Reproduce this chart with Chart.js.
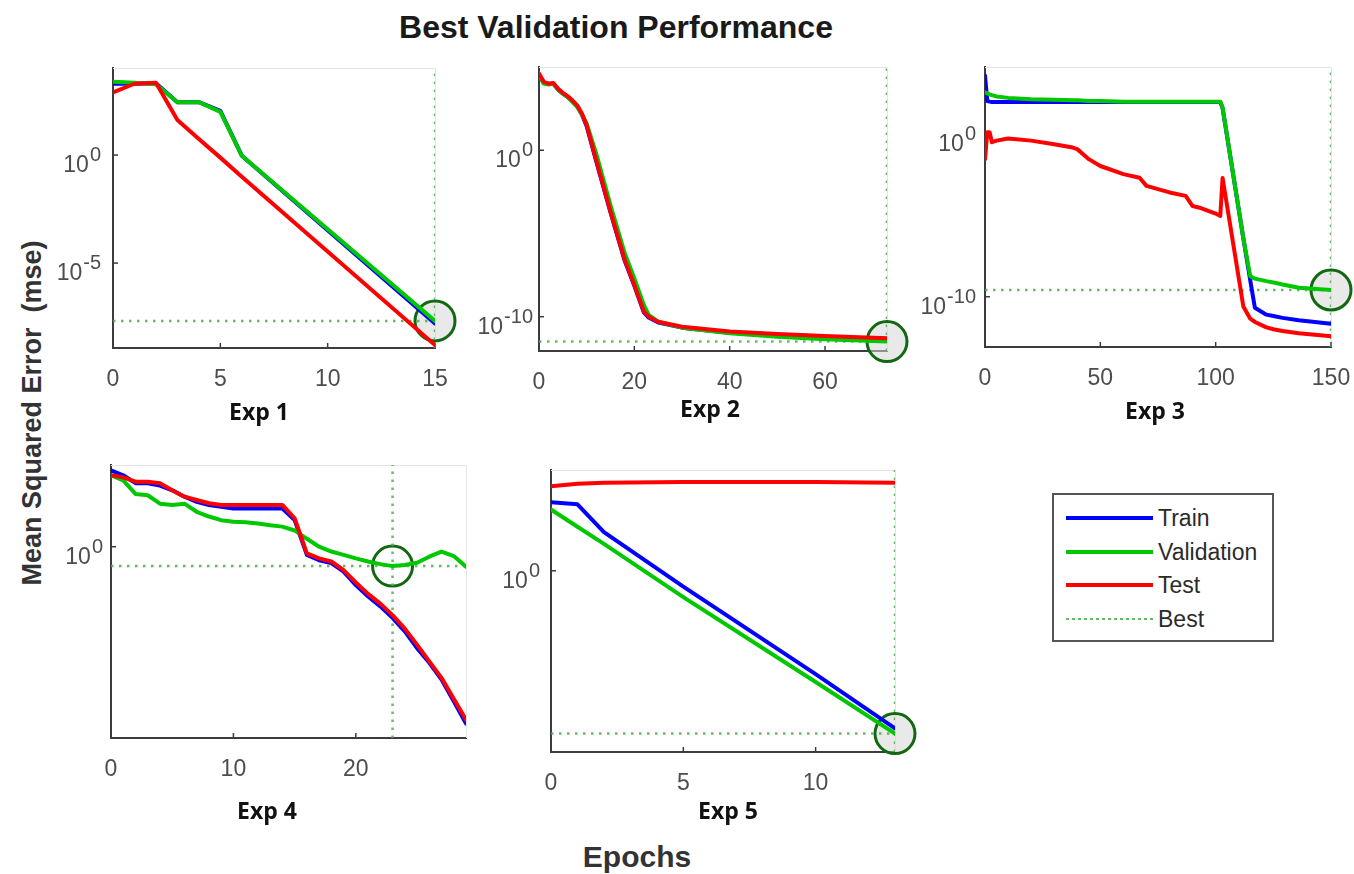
<!DOCTYPE html>
<html lang="en">
<head>
  <meta charset="utf-8">
  <title>Best Validation Performance</title>
  <script src="https://cdn.jsdelivr.net/npm/chart.js@4.4.1/dist/chart.umd.min.js"></script>
  <style>
    body { margin: 0; background: #fff; }
    #page { position: relative; width: 1354px; height: 874px; overflow: hidden;
            font-family: 'Liberation Sans', Arial, sans-serif; }
    .abs { position: absolute; }
    .mid { transform: translate(-50%, -50%); white-space: pre; }
    #title { left: 616px; top: 27px; font-size: 32px; font-weight: bold; color: #1a1a1a; }
    #ylabel { left: 32px; top: 413px; font-size: 27px; font-weight: bold; color: #333;
              transform: translate(-50%, -50%) rotate(-90deg); white-space: pre; }
    #xlabel { left: 637px; top: 857px; font-size: 30px; font-weight: bold; color: #333; }
    .exp { font-family: 'Open Sans', sans-serif; font-size: 23px; font-weight: bold; color: #111; }
    #legend { left: 1052px; top: 493px; width: 218px; height: 145px; border: 2px solid #555; }
    .row { position: absolute; left: 0; height: 34px; width: 100%; }
    .swatch { position: absolute; left: 12px; width: 87px; top: 15px; height: 4px; }
    .swatch.dot { height: 2px; top: 16px;
                  background: repeating-linear-gradient(to right, rgba(70,175,70,0.85) 0 3px, transparent 3px 6px); }
    .name { position: absolute; left: 104px; top: 4px; font-size: 23px; color: #2b2b2b; }
  </style>
</head>
<body>
<div id="page">
  <div id="title" class="abs mid">Best Validation Performance</div>
  <div id="ylabel" class="abs">Mean Squared Error  (mse)</div>
  <div id="xlabel" class="abs mid">Epochs</div>
  <div id="legend" class="abs"></div>
</div>

<script>
  const expNames = ['Exp 1', 'Exp 2', 'Exp 3', 'Exp 4', 'Exp 5'];
  const seriesNames = ['Train', 'Validation', 'Test', 'Best'];

  // Exp 1
  const exp1Epochs = [0, 1, 2, 3, 4, 5, 6, 15];
  const exp1Train = [2.0e3, 2.0e3, 2.1e3, 2.8e2, 2.8e2, 1.1e2, 0.93, 1.6e-8];
  const exp1Val = [2.5e3, 2.2e3, 1.9e3, 2.8e2, 2.8e2, 1.0e2, 0.93, 2.1e-8];
  const exp1Test = [7.9e2, 2.0e3, 2.2e3, 42, 5.6, 0.76, 0.10, 1.6e-9];
  const exp1Best = [15, 2.1e-8];
  const exp1XTicks = [0, 5, 10, 15];
  const exp1YTicks = [1e-5, 1];

  // Exp 2
  const exp2Epochs = [0, 1, 2, 3, 4, 5, 6, 7, 8, 9, 10, 12, 15, 18, 20, 22, 23, 25, 30, 40, 50, 60, 73];
  const exp2Train = [3.5e4, 1.1e4, 1.0e4, 1.0e4, 4.5e3, 2.5e3, 1.6e3, 8.9e2, 4.5e2, 1.4e2, 28, 0.22,
                     1.8e-4, 2.2e-7, 7.1e-9, 1.8e-10, 8.9e-11, 4.5e-11, 2.2e-11, 1.1e-11, 7.9e-12, 6.0e-12, 4.5e-12];
  const exp2Val = [3.2e4, 1.0e4, 8.9e3, 1.0e4, 4.5e3, 2.5e3, 1.6e3, 7.9e2, 4.0e2, 1.4e2, 40, 0.63,
                   5.0e-4, 6.3e-7, 2.0e-8, 5.0e-10, 1.3e-10, 5.0e-11, 2.2e-11, 1.0e-11, 6.3e-12, 4.4e-12, 3.2e-12];
  const exp2Test = [4.0e4, 1.3e4, 1.0e4, 1.1e4, 5.0e3, 2.8e3, 1.8e3, 1.0e3, 5.0e2, 1.6e2, 32, 0.25,
                    2.0e-4, 2.5e-7, 7.9e-9, 2.0e-10, 1.0e-10, 5.0e-11, 2.5e-11, 1.3e-11, 9.1e-12, 6.9e-12, 5.0e-12];
  const exp2Best = [73, 3.2e-12];
  const exp2XTicks = [0, 20, 40, 60];
  const exp2YTicks = [1e-10, 1];

  // Exp 3
  const exp3Epochs = [0, 1, 2, 3, 5, 10, 20, 30, 38, 40, 45, 50, 60, 67, 70, 80, 87, 90, 93, 100,
                      102, 103, 112, 115, 117, 122, 125, 129, 136, 150];
  const exp3Train = [4.0e3, 1.1e2, 1.0e2, 95, 95, 95, 95, 95, 95, 95, 95, 95, 95, 95, 95, 95, 95, 95, 95, 95,
                     95, 40, 3.9e-7, 1.0e-9, 2.1e-11, 7.9e-12, 6.5e-12, 5.0e-12, 3.6e-12, 2.2e-12];
  const exp3Val = [3.7e2, 3.2e2, 2.8e2, 2.5e2, 2.1e2, 1.7e2, 1.4e2, 1.3e2, 1.2e2, 1.2e2, 1.1e2, 1.1e2,
                   1.0e2, 1.0e2, 1.0e2, 1.0e2, 1.0e2, 1.0e2, 1.0e2, 1.0e2,
                   1.0e2, 43, 3.9e-7, 1.8e-9, 1.3e-9, 9.1e-10, 7.6e-10, 5.6e-10, 3.6e-10, 2.6e-10];
  const exp3Test = [2.9e-2, 1.3, 1.3, 0.32, 0.40, 0.54, 0.40, 0.24, 0.15, 0.12, 2.9e-2, 1.1e-2, 3.5e-3,
                    2.1e-3, 6.6e-4, 2.6e-4, 1.6e-4, 3.8e-5, 3.0e-5, 1.3e-5,
                    9.3e-6, 2.0e-3, 2.5e-11, 4.5e-12, 2.8e-12, 1.3e-12, 1.0e-12, 7.9e-13, 5.6e-13, 3.7e-13];
  const exp3Best = [150, 2.6e-10];
  const exp3XTicks = [0, 50, 100, 150];
  const exp3YTicks = [1e-10, 1];

  // Exp 4
  const exp4Epochs = [0, 1, 2, 3, 4, 5, 6, 7, 8, 9, 10, 11, 12, 13, 14, 15, 16, 17, 18, 19,
                      20, 21, 22, 23, 24, 25, 26, 27, 28, 29];
  const exp4Train = [50, 39, 26, 26, 23, 18, 13, 10, 8.5, 7.8, 7.1, 7.1, 7.1, 7.1, 7.1, 3.9, 0.66, 0.50, 0.43, 0.28,
                     0.14, 0.078, 0.047, 0.026, 0.013, 5.5e-3, 2.6e-3, 1.1e-3, 3.6e-4, 1.15e-4];
  const exp4Val = [39, 30, 15, 14, 9.1, 8.5, 9.1, 6.0, 4.7, 3.9, 3.6, 3.5, 3.3, 3.0, 2.8, 2.3, 1.5, 1.0, 0.78, 0.66,
                   0.55, 0.47, 0.41, 0.37, 0.39, 0.44, 0.60, 0.78, 0.62, 0.36];
  const exp4Test = [39, 35, 28, 28, 26, 18, 13, 11, 9.3, 8.5, 8.5, 8.5, 8.5, 8.5, 8.5, 4.3, 0.71, 0.55, 0.47, 0.30,
                    0.16, 0.089, 0.054, 0.030, 0.015, 6.6e-3, 2.8e-3, 1.2e-3, 4.1e-4, 1.4e-4];
  const exp4Best = [23, 0.37];
  const exp4XTicks = [0, 10, 20];
  const exp4YTicks = [1];

  // Exp 5
  const exp5Epochs = [0, 1, 2, 5, 10, 13];
  const exp5Train = [52, 46, 9.3, 0.40, 2.6e-3, 1.15e-4];
  const exp5Val = [34, 12.6, 4.7, 0.22, 1.66e-3, 8.5e-5];
  const exp5Test = [1.3e2, 1.5e2, 1.6e2, 1.66e2, 1.66e2, 1.6e2];
  const exp5Best = [13, 8.5e-5];
  const exp5XTicks = [0, 5, 10];
  const exp5YTicks = [1];

  const colors = { Train: '#0000ff', Validation: '#00c800', Test: '#ff0000' };
  const bestColor = 'rgba(70,175,70,0.85)';
  const tickFont = '"Liberation Sans", Arial, sans-serif';

  // plot box on the page [left, top, right, bottom], axis limits and label spots
  const panels = [
    { box: [113, 68, 435, 348], xMax: 15, yRange: [1.17e-9, 1.07e4], label: [259, 411], gap: 12, fill: true,
      epochs: exp1Epochs, train: exp1Train, val: exp1Val, test: exp1Test, best: exp1Best, xTicks: exp1XTicks, yTicks: exp1YTicks },
    { box: [539, 67, 887, 351], xMax: 73, yRange: [8.7e-13, 1.0e5], label: [710, 408], gap: 6, fill: true,
      epochs: exp2Epochs, train: exp2Train, val: exp2Val, test: exp2Test, best: exp2Best, xTicks: exp2XTicks, yTicks: exp2YTicks },
    { box: [985, 67, 1331, 347], xMax: 150, yRange: [8.1e-14, 1.35e4], label: [1155, 410], gap: 9, fill: true,
      epochs: exp3Epochs, train: exp3Train, val: exp3Val, test: exp3Test, best: exp3Best, xTicks: exp3XTicks, yTicks: exp3YTicks },
    { box: [111, 465, 466, 738], xMax: 29, yRange: [5.5e-5, 66], label: [267, 810], gap: 8, fill: false,
      epochs: exp4Epochs, train: exp4Train, val: exp4Val, test: exp4Test, best: exp4Best, xTicks: exp4XTicks, yTicks: exp4YTicks },
    { box: [551, 470, 895, 752], xMax: 13, yRange: [2.95e-5, 331], label: [728, 810], gap: 11, fill: true,
      epochs: exp5Epochs, train: exp5Train, val: exp5Val, test: exp5Test, best: exp5Best, xTicks: exp5XTicks, yTicks: exp5YTicks }
  ];

  // MATLAB-like axes: inward ticks, faint top/right edges, 10^n labels
  const axisDecor = {
    id: 'axisDecor',
    beforeDatasetsDraw(chart, args, opts) {
      const { ctx, chartArea: a, scales: { x, y } } = chart;
      ctx.save();
      ctx.strokeStyle = '#e4e4e4';
      ctx.lineWidth = 1;
      ctx.beginPath();
      ctx.moveTo(a.left, a.top + 0.5);
      ctx.lineTo(a.right + 0.5, a.top + 0.5);
      ctx.lineTo(a.right + 0.5, a.bottom);
      ctx.stroke();

      ctx.strokeStyle = '#3c3c3c';
      ctx.lineWidth = 1.5;
      x.ticks.forEach(t => {
        const px = x.getPixelForValue(t.value);
        ctx.beginPath(); ctx.moveTo(px, a.bottom); ctx.lineTo(px, a.bottom - 5); ctx.stroke();
      });
      y.ticks.forEach(t => {
        const py = y.getPixelForValue(t.value);
        ctx.beginPath(); ctx.moveTo(a.left, py); ctx.lineTo(a.left + 5, py); ctx.stroke();
      });

      ctx.fillStyle = '#4d4d4d';
      ctx.font = '23px ' + tickFont;
      ctx.textAlign = 'center';
      ctx.textBaseline = 'alphabetic';
      x.ticks.forEach(t => ctx.fillText(String(t.value), x.getPixelForValue(t.value), a.bottom + 38));

      ctx.textAlign = 'right';
      y.ticks.forEach(t => {
        const py = y.getPixelForValue(t.value);
        const pow = String(Math.round(Math.log10(t.value)));
        const right = a.left - opts.gap;
        ctx.font = '20px ' + tickFont;
        const w = ctx.measureText(pow).width;
        ctx.fillText(pow, right, py + 6);
        ctx.font = '23px ' + tickFont;
        ctx.fillText('10', right - w - 1, py + 17);
      });
      ctx.restore();
    }
  };

  function seriesData(epochs, values) {
    return epochs.map((e, i) => ({ x: e, y: values[i] }));
  }

  function lineSet(name, epochs, values, order) {
    return {
      label: name, data: seriesData(epochs, values), order: order,
      borderColor: colors[name], borderWidth: 4, pointRadius: 0,
      borderJoinStyle: 'round', borderCapStyle: 'round'
    };
  }

  panels.forEach((p, k) => {
    const [L, T, R, B] = p.box;
    const padTop = 25, padRight = 35, yW = 100, xH = 60;
    const canvas = document.createElement('canvas');
    canvas.width = (R - L) + yW + padRight;
    canvas.height = (B - T) + padTop + xH;
    canvas.className = 'abs';
    canvas.style.left = (L - yW) + 'px';
    canvas.style.top = (T - padTop) + 'px';
    document.getElementById('page').appendChild(canvas);

    const lab = document.createElement('div');
    lab.className = 'abs mid exp';
    lab.style.left = p.label[0] + 'px';
    lab.style.top = p.label[1] + 'px';
    lab.textContent = expNames[k];
    document.getElementById('page').appendChild(lab);

    const [bx, by] = p.best;
    new Chart(canvas, {
      type: 'line',
      data: {
        datasets: [
          lineSet('Test', p.epochs, p.test, 1),
          lineSet('Validation', p.epochs, p.val, 2),
          lineSet('Train', p.epochs, p.train, 3),
          { label: 'Best', data: [{ x: bx, y: p.yRange[0] }, { x: bx, y: p.yRange[1] }], order: 4,
            borderColor: bestColor, borderWidth: 2.5, borderDash: [2.5, 5.5], pointRadius: 0 },
          { label: 'Best', data: [{ x: 0, y: by }, { x: p.xMax, y: by }], order: 4,
            borderColor: bestColor, borderWidth: 2.5, borderDash: [2.5, 5.5], pointRadius: 0 },
          { label: 'Best point', data: [{ x: bx, y: by }], order: 5, showLine: false, clip: false,
            pointRadius: 20, pointBorderWidth: 3, pointBorderColor: '#126812',
            pointBackgroundColor: p.fill ? 'rgba(215,215,215,0.55)' : 'rgba(0,0,0,0)' }
        ]
      },
      options: {
        responsive: false,
        animation: false,
        events: [],
        layout: { padding: { left: 0, top: padTop, right: padRight, bottom: 0 } },
        plugins: { legend: { display: false }, tooltip: { enabled: false }, axisDecor: { gap: p.gap } },
        scales: {
          x: {
            type: 'linear', min: 0, max: p.xMax,
            grid: { display: false },
            border: { display: true, color: '#3c3c3c', width: 2 },
            ticks: { display: false },
            afterBuildTicks: s => { s.ticks = p.xTicks.map(v => ({ value: v })); },
            afterFit: s => { s.height = xH; }
          },
          y: {
            type: 'logarithmic', min: p.yRange[0], max: p.yRange[1],
            grid: { display: false },
            border: { display: true, color: '#3c3c3c', width: 2 },
            ticks: { display: false },
            afterBuildTicks: s => { s.ticks = p.yTicks.map(v => ({ value: v })); },
            afterFit: s => { s.width = yW; }
          }
        }
      },
      plugins: [axisDecor]
    });
  });

  // legend box
  const legend = document.getElementById('legend');
  seriesNames.forEach((name, i) => {
    const row = document.createElement('div');
    row.className = 'row';
    row.style.top = (6 + i * 33.7) + 'px';
    const sw = document.createElement('div');
    sw.className = 'swatch' + (colors[name] ? '' : ' dot');
    if (colors[name]) sw.style.background = colors[name];
    const tx = document.createElement('div');
    tx.className = 'name';
    tx.textContent = name;
    row.appendChild(sw);
    row.appendChild(tx);
    legend.appendChild(row);
  });
</script>
</body>
</html>
